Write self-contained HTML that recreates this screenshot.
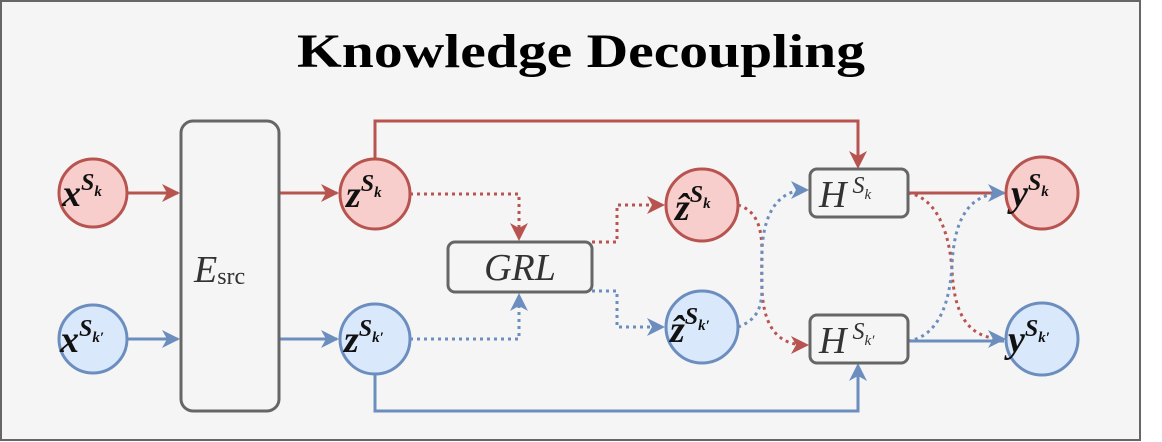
<!DOCTYPE html>
<html><head><meta charset="utf-8"><style>
html,body{margin:0;padding:0;background:#fff;}
svg{display:block;}
.m{font-family:"Liberation Serif",serif;font-style:italic;fill:#111;}
.g{font-family:"Liberation Serif",serif;font-style:italic;fill:#333;}
</style></head><body>
<svg width="1162" height="442" viewBox="0 0 1162 442" xmlns="http://www.w3.org/2000/svg">
<rect x="1" y="1" width="1139" height="439" fill="#f5f5f5" stroke="#666" stroke-width="2"/>
<text x="581" y="67" text-anchor="middle" font-family="Liberation Serif,serif" font-weight="bold" font-size="48" textLength="568" lengthAdjust="spacingAndGlyphs" fill="#000">Knowledge Decoupling</text>

<g stroke-width="3" fill="none">
<path d="M128,193 H178" stroke="#b85450"/>
<path d="M279,193 H337" stroke="#b85450"/>
<path d="M375,158 V121 H858 V166" stroke="#b85450"/>
<path d="M908,193 H1004" stroke="#b85450"/>
<path d="M128,339 H178" stroke="#6c8ebf"/>
<path d="M279,339 H337" stroke="#6c8ebf"/>
<path d="M375,374 V411 H858 V366" stroke="#6c8ebf"/>
<path d="M908,341 H1004" stroke="#6c8ebf"/>
<g stroke-dasharray="3,4">
<path d="M410,194 H519 V238" stroke="#b85450"/>
<path d="M410,339 H519 V296" stroke="#6c8ebf"/>
<path d="M592,242 H617 V205 H662" stroke="#b85450"/>
<path d="M592,291 H617 V327 H662" stroke="#6c8ebf"/>
<path d="M738,205 C770,215 760,255 762,290 C764,330 780,345 806,345" stroke="#b85450"/>
<path d="M738,327 C770,315 760,290 762,250 C764,210 780,190 806,190" stroke="#6c8ebf"/>
<path d="M908,193 C940,198 950,240 952,270 C954,310 965,339 1004,339" stroke="#b85450"/>
<path d="M908,341 C940,336 950,300 952,265 C954,225 965,193 1004,193" stroke="#6c8ebf"/>
</g>
</g>
<g>
<path d="M180,193 l-18,-9 l5,9 l-5,9z" fill="#b85450"/>
<path d="M339,193 l-18,-9 l5,9 l-5,9z" fill="#b85450"/>
<path d="M858,169 l-9,-18 l9,5 l9,-5z" fill="#b85450"/>
<path d="M519,241 l-9,-18 l9,5 l9,-5z" fill="#b85450"/>
<path d="M665,205 l-18,-9 l5,9 l-5,9z" fill="#b85450"/>
<path d="M809,345 l-18,-9 l5,9 l-5,9z" fill="#b85450"/>
<path d="M180,339 l-18,-9 l5,9 l-5,9z" fill="#6c8ebf"/>
<path d="M339,339 l-18,-9 l5,9 l-5,9z" fill="#6c8ebf"/>
<path d="M858,363 l-9,18 l9,-5 l9,5z" fill="#6c8ebf"/>
<path d="M519,293 l-9,18 l9,-5 l9,5z" fill="#6c8ebf"/>
<path d="M665,327 l-18,-9 l5,9 l-5,9z" fill="#6c8ebf"/>
<path d="M809,190 l-18,-9 l5,9 l-5,9z" fill="#6c8ebf"/>
<path d="M1006,193 l-18,-9 l5,9 l-5,9z" fill="#6c8ebf"/>
<path d="M1006,339 l-18,-9 l5,9 l-5,9z" fill="#6c8ebf"/>
</g>

<g fill="#f5f5f5" stroke="#666" stroke-width="3">
<rect x="181" y="121" width="98" height="290" rx="12"/>
<rect x="448" y="242" width="144" height="50" rx="7"/>
<rect x="810" y="169" width="98" height="48" rx="7"/>
<rect x="810" y="315" width="98" height="48" rx="7"/>
</g>
<g stroke-width="3">
<circle cx="93" cy="193" r="34" fill="#f8cecc" stroke="#b85450"/>
<circle cx="375" cy="194" r="35" fill="#f8cecc" stroke="#b85450"/>
<circle cx="702" cy="205" r="36" fill="#f8cecc" stroke="#b85450"/>
<circle cx="1042" cy="193" r="36" fill="#f8cecc" stroke="#b85450"/>
<circle cx="93" cy="339" r="34" fill="#dae8fc" stroke="#6c8ebf"/>
<circle cx="375" cy="339" r="35" fill="#dae8fc" stroke="#6c8ebf"/>
<circle cx="702" cy="327" r="36" fill="#dae8fc" stroke="#6c8ebf"/>
<circle cx="1042" cy="339" r="36" fill="#dae8fc" stroke="#6c8ebf"/>
</g>

<g class="m" font-weight="bold">
<text x="62" y="206" font-size="38">x<tspan dy="-16" font-size="24">S</tspan><tspan dy="6" font-size="15">k</tspan></text>
<text x="60" y="352" font-size="38">x<tspan dy="-16" font-size="24">S</tspan><tspan dy="6" font-size="15">k′</tspan></text>
<text x="346" y="207" font-size="38">z<tspan dy="-16" font-size="24">S</tspan><tspan dy="6" font-size="15">k</tspan></text>
<text x="344" y="352" font-size="38">z<tspan dy="-16" font-size="24">S</tspan><tspan dy="6" font-size="15">k′</tspan></text>
<text x="675" y="220" font-size="38">ẑ<tspan dy="-18" font-size="24">S</tspan><tspan dy="6" font-size="15">k</tspan></text>
<text x="670" y="342" font-size="38">ẑ<tspan dy="-18" font-size="24">S</tspan><tspan dy="6" font-size="15">k′</tspan></text>
<text x="1011" y="206" font-size="38">y<tspan dy="-16" font-size="24">S</tspan><tspan dy="6" font-size="15">k</tspan></text>
<text x="1008" y="352" font-size="38">y<tspan dy="-16" font-size="24">S</tspan><tspan dy="6" font-size="15">k′</tspan></text>
</g>
<g class="g">
<text x="819" y="207" font-size="38">H<tspan dy="-14" font-size="24" dx="6">S</tspan><tspan dy="6" font-size="15">k</tspan></text>
<text x="819" y="353" font-size="38">H<tspan dy="-14" font-size="24" dx="6">S</tspan><tspan dy="6" font-size="15">k′</tspan></text>
<text x="520" y="280" font-size="38" text-anchor="middle">GRL</text>
<text x="194" y="282" font-size="38">E<tspan font-style="normal" font-size="24" dy="2">src</tspan></text>
</g>
</svg>
</body></html>
